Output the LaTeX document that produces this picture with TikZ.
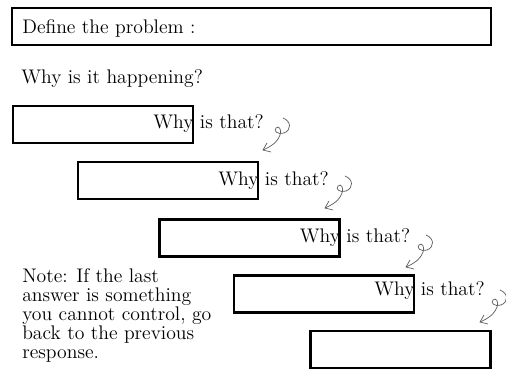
\documentclass[tikz,border=0pt]{standalone}
\usepackage{tikz}
\usetikzlibrary{calc}

\begin{document}
\begin{tikzpicture}[scale=0.025,
  every node/.style={inner sep=0pt, font=\fontsize{14}{17}\selectfont},
  box/.style={draw, line width=1.6pt, minimum width=4.5cm, minimum height=0.925cm},
  curly/.style={draw=black!65, line width=0.5pt, scale=0.025},
  curl/.pic={
    \draw[curly] (0,0) .. controls (8,-3) and (9,-12) .. (1,-15)
      .. controls (-5,-17) and (-10,-13) .. (-7,-10)
      .. controls (-4,-7) and (-1,-12) .. (-3,-17)
      .. controls (-6,-25) and (-13,-29) .. (-20,-32);
    \draw[curly] (-16,-25) -- (-20,-32) -- (-12,-34);
  }]
\useasboundingbox (0,0) rectangle (506,-372);
\node[box, minimum width=11.975cm] (problem) at (251.5,-26.5) {};
\node[anchor=base west] (define) at (22,-33) {Define the problem :};
\node[anchor=base west] (why) at (21,-83) {Why is it happening?};
\node[box] (b1) at (103,-124.5) {};
\node[box] (b2) at (168,-180.5) {};
\node[box] (b3) at (249.5,-238) {};
\node[box] (b4) at (324,-294) {};
\node[box] (b5) at (400.5,-349.5) {};
\node[anchor=base west] (q1) at ($(b1.east)+(-41,-4)$) {Why is that?};
\node[anchor=base west] (q2) at ($(b2.east)+(-41,-5)$) {Why is that?};
\node[anchor=base west] (q3) at ($(b3.east)+(-41,-5)$) {Why is that?};
\node[anchor=base west] (q4) at ($(b4.east)+(-41,-2)$) {Why is that?};
\pic at (283,-118) {curl};
\pic at (345,-176) {curl};
\pic at (426,-235) {curl};
\pic at (500,-290) {curl};
\node[anchor=north west, align=left, font=\fontsize{14}{13.5}\selectfont] (note) at (22,-268)
  {Note: If the last\\answer is something\\you cannot control, go\\back to the previous\\response.};
\end{tikzpicture}
\end{document}
